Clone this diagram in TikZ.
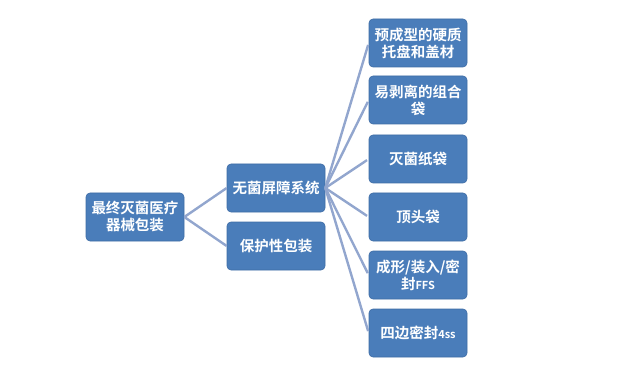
\documentclass[tikz,border=0pt]{standalone}
\usepackage{fontspec}
\newfontfamily\cjk{Noto Sans CJK SC}[BoldFont={Noto Sans CJK SC Bold}]
\usepackage{tikz}
\usetikzlibrary{positioning}
\definecolor{pkgBlue}{RGB}{74,125,186}
\definecolor{pkgEdge}{RGB}{62,108,165}
\definecolor{pkgLine}{RGB}{146,166,206}
\tikzset{
  pbox/.style={
    rectangle, rounded corners=4pt,
    draw=pkgEdge, fill=pkgBlue, line width=0.6pt,
    minimum width=98pt, minimum height=48pt,
    inner sep=1pt, align=center,
    font=\cjk\bfseries\fontsize{14.5pt}{17pt}\selectfont,
    text=white
  },
  plink/.style={draw=pkgLine, line width=2.4pt},
}

\begin{document}
\begin{tikzpicture}[x=1pt,y=-1pt]
  \useasboundingbox (0,0) rectangle (625,369);

  \node[pbox] (root) at (135,217) {最终灭菌医疗\\器械包装};

  \node[pbox] (sbs)  at (276,188) {无菌屏障系统};
  \node[pbox] (prot) at (276,246) {保护性包装};

  \node[pbox] (tray)  at (418,43)  {预成型的硬质\\托盘和盖材};
  \node[pbox] (peel)  at (418,100) {易剥离的组合\\袋};
  \node[pbox] (paper) at (418,159) {灭菌纸袋};
  \node[pbox] (head)  at (418,217) {顶头袋};
  \node[pbox] (ffs)   at (418,275) {成形/装入/密\\封{\fontsize{11pt}{13pt}\selectfont FFS}};
  \node[pbox] (fss)   at (418,333) {四边密封{\fontsize{11pt}{13pt}\selectfont 4ss}};

  \draw[plink] (root.east) -- (sbs.west);
  \draw[plink] (root.east) -- (prot.west);
  \foreach \t in {tray,peel,paper,head,ffs,fss}
    \draw[plink,shorten >=2pt] (sbs.east) -- (\t.west);
\end{tikzpicture}
\end{document}
